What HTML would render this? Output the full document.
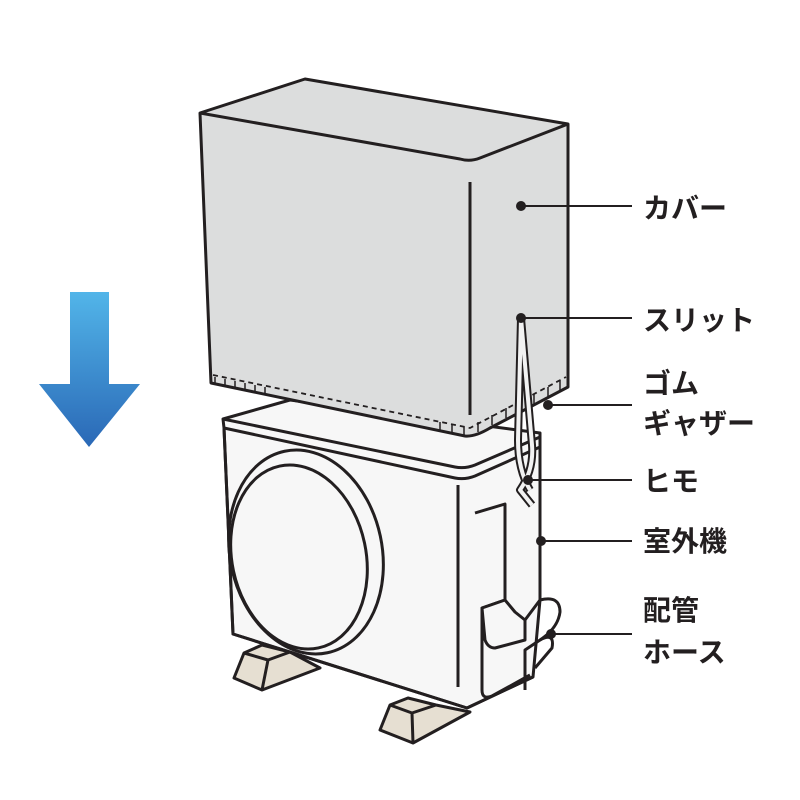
<!DOCTYPE html><html><head><meta charset="utf-8"><style>
html,body{margin:0;padding:0;background:#fff}
svg{display:block}
text{font-family:"Liberation Sans","Noto Sans CJK JP",sans-serif;font-size:28px;font-weight:bold;fill:#231f20}
</style></head><body>
<svg width="800" height="800" viewBox="0 0 800 800">
<defs><linearGradient id="g" x1="0" y1="0" x2="0" y2="1"><stop offset="0" stop-color="#52b5e9"/><stop offset="1" stop-color="#2a68b6"/></linearGradient></defs>
<path d="M70 292H109V384H140L89 447L39 384H70Z" fill="url(#g)"/>
<g stroke="#231f20" stroke-width="3" stroke-linejoin="round" fill="none">
<!-- feet -->
<path d="M234 678L244 653L262 645L290 652L320 668L262 690Z" fill="#e6dfd2"/>
<path d="M244 653L268 660L262 690M268 660L290 652"/>
<path d="M380 730L390 705L408 698L436 705L470 712L413 743Z" fill="#e6dfd2"/>
<path d="M390 705L412 713L413 743M412 713L436 705"/>
<!-- unit -->
<path d="M223 419L290 400L540 433L540 600L533 677L467 708L233 634L224 428Z" fill="#f7f7f7"/>
<path d="M223 419L455 467Q465 469 475 465L540 437"/>
<path d="M224 428L455 478Q465 480 475 476L540 447"/>
<path d="M224 428L233 634L467 708L533 677"/>
<path d="M458 485V687"/>
<path d="M540 437V600"/>
<ellipse cx="306" cy="552" rx="76" ry="103" transform="rotate(-12 306 552)" fill="#f7f7f7"/>
<ellipse cx="299" cy="557" rx="67" ry="93" transform="rotate(-12 299 557)"/>
<path d="M475 513L505 504V600L482 608V690Q482 700 492 696L530 675"/>
<path d="M482 608L505 600L515 612L525 620V640L495 648Q488 648 485 640Z" fill="#f7f7f7"/>
<path d="M525 620L540 600Q560 595 560 612Q558 628 540 640L525 650V690"/>
<path d="M540 640Q555 632 552 648L535 668"/>
<!-- cover -->
<path d="M200 113L305 79L568 124L568 387L490 428Q475 437 465 436L211 383Z" fill="#dcdddd"/>
<path d="M200 113L460 159Q470 162 480 158L568 124M470 182V415"/>
<path d="M213 375L470 428L566 377" stroke-width="1.8" stroke-dasharray="5 4"/>
<path d="M215 377V385M225 379V387M235 381V389M245 383V391M255 385V393M265 387V395M440 422V432M452 424V434M464 427V437M478 422V432M492 415V425M506 408V418M520 401V411M534 394V404M548 387V397M560 381V391" stroke-width="1.5"/>
<!-- string -->
<path d="M521 318L518 440Q518 470 530 490M521 318L532 445Q534 470 520 490L532 505" stroke-width="8" stroke="#231f20"/>
<path d="M521 318L518 440Q518 470 530 490M521 318L532 445Q534 470 520 490L532 505" stroke-width="4" stroke="#f2f2f2"/>
<!-- leader lines -->
<path d="M521 206H632M521 318H632M548 405H632M528 480H632M541 541H632M551 634H632" stroke-width="2"/>
</g>
<g fill="#231f20">
<circle cx="521" cy="206" r="5"/><circle cx="521" cy="318" r="5"/><circle cx="548" cy="405" r="5"/>
<circle cx="528" cy="480" r="5"/><circle cx="541" cy="541" r="5"/><circle cx="551" cy="634" r="5"/>
</g>
<text x="643" y="218">カバー</text>
<text x="643" y="330">スリット</text>
<text x="643" y="393">ゴム</text>
<text x="643" y="433">ギャザー</text>
<text x="643" y="491">ヒモ</text>
<text x="643" y="551">室外機</text>
<text x="643" y="620">配管</text>
<text x="643" y="662">ホース</text>
</svg>
</body></html>
